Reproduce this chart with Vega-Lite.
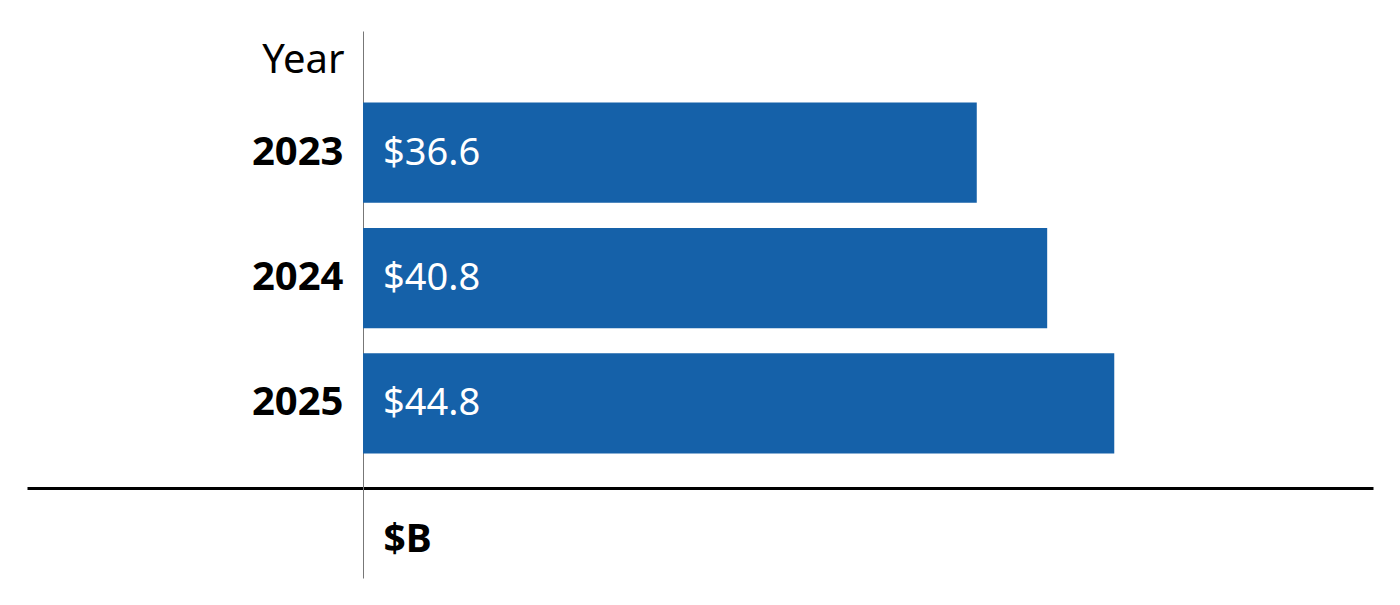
{
  "$schema": "https://vega.github.io/schema/vega-lite/v6.json",
  "width": 1346,
  "height": 547,
  "autosize": "none",
  "padding": {"left": 27, "top": 31, "right": 27, "bottom": 27},
  "background": "white",
  "config": {
    "view": {"stroke": null},
    "font": "Noto Sans"
  },
  "data": {
    "values": [
      {"Year": "2023", "value": 36.6},
      {"Year": "2024", "value": 40.8},
      {"Year": "2025", "value": 44.8}
    ]
  },
  "encoding": {
    "y": {
      "field": "Year",
      "type": "nominal",
      "sort": null,
      "scale": {"paddingInner": 0.2, "paddingOuter": 0.783, "align": 0.365},
      "axis": {
        "orient": "left",
        "offset": -336,
        "domainColor": "#777777",
        "domainWidth": 1,
        "ticks": false,
        "tickSize": 0,
        "labelPadding": 20,
        "labelFont": "Noto Sans",
        "labelFontSize": 40,
        "labelFontWeight": "bold",
        "labelColor": "black",
        "title": "Year",
        "titleAngle": 0,
        "titleAlign": "right",
        "titleBaseline": "alphabetic",
        "titleX": -19,
        "titleY": 41,
        "titleFont": "Noto Sans",
        "titleFontSize": 40,
        "titleFontWeight": "normal",
        "titleColor": "black"
      }
    }
  },
  "layer": [
    {
      "mark": {"type": "bar", "color": "#1561A9"},
      "encoding": {
        "x": {
          "field": "value",
          "type": "quantitative",
          "scale": {"domain": [-20.04, 60.23], "nice": false, "zero": false},
          "axis": {
            "orient": "bottom",
            "offset": -90,
            "domainColor": "black",
            "domainWidth": 3,
            "labels": false,
            "ticks": false,
            "grid": false,
            "title": "$B",
            "titleAlign": "left",
            "titleBaseline": "alphabetic",
            "titleX": 356,
            "titleY": 63,
            "titleFont": "Noto Sans",
            "titleFontSize": 39,
            "titleFontWeight": "bold",
            "titleColor": "black"
          }
        },
        "x2": {"datum": 0}
      }
    },
    {
      "mark": {
        "type": "text",
        "align": "left",
        "baseline": "middle",
        "dx": 20,
        "dy": 1,
        "color": "white",
        "font": "Noto Sans",
        "fontSize": 38
      },
      "encoding": {
        "x": {"datum": 0, "type": "quantitative"},
        "text": {"field": "value", "type": "quantitative", "format": "$.1f"}
      }
    }
  ]
}
